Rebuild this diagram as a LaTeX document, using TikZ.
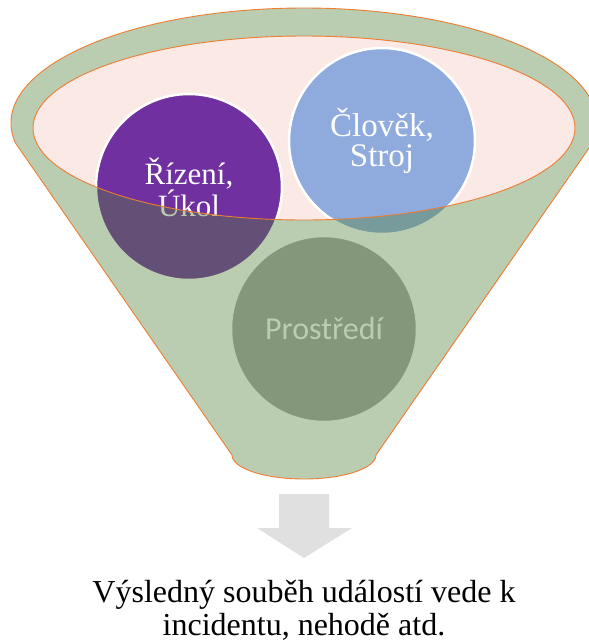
\documentclass[tikz,border=0pt]{standalone}
\usepackage{fontspec}
\setmainfont{Liberation Serif}
\newfontfamily\calibrifont{Carlito}
\usepackage{tikz}
\usetikzlibrary{calc}
\definecolor{funnelgreen}{RGB}{83,130,58}
\definecolor{rimpink}{RGB}{251,233,230}
\definecolor{rimorange}{RGB}{237,125,49}
\definecolor{ballpurple}{RGB}{112,48,160}
\definecolor{ballblue}{RGB}{143,170,220}
\definecolor{ballgray}{RGB}{165,165,165}
\definecolor{arrowgray}{RGB}{224,224,224}
\tikzset{
	ballstyle/.style={circle,draw=white,line width=2.5pt,minimum size=186pt,inner sep=0pt,text=white,align=center},
	rimstyle/.style={draw=rimorange,line width=0.9pt},
	textstyle/.style={rectangle,inner sep=0pt,align=center}
}

\begin{document}
\begin{tikzpicture}[x=1pt,y=-1pt]
	\useasboundingbox (0,0) rectangle (589,641);
	\coordinate (o) at (304,123);
	\coordinate (rim) at (304,128);
	\coordinate (bl) at (232,455);
	\coordinate (br) at (376,455);
	\fill[rimpink] (rim) ellipse [x radius=271,y radius=92];
	\node[ballstyle,fill=ballpurple,font=\rmfamily\fontsize{31}{32}\selectfont] (rizeni) at (189,187) {Řízení,\\Úkol};
	\node[ballstyle,fill=ballblue,font=\rmfamily\fontsize{33}{30}\selectfont] (clovek) at (382,141) {Člověk,\\Stroj};
	\node[ballstyle,fill=ballgray,font=\calibrifont\fontsize{32}{32}\selectfont] (prostredi) at (324,329) {Prostředí};
	\fill[funnelgreen,fill opacity=0.4,even odd rule]
		($(o)+(170:293 and 115)$) arc[start angle=170,end angle=370,x radius=293,y radius=115]
		-- (br) arc[start angle=0,end angle=180,x radius=72,y radius=24] -- cycle
		(rim) ellipse [x radius=271,y radius=92];
	\draw[rimstyle] ($(o)+(170:293 and 115)$) arc[start angle=170,end angle=370,x radius=293,y radius=115]
		-- (br) arc[start angle=0,end angle=180,x radius=72,y radius=24] -- cycle;
	\draw[rimstyle] (rim) ellipse [x radius=271,y radius=92];
	\fill[arrowgray] (279,494) -- (329,494) -- (329,528) -- (352,528) -- (304,558) -- (257,528) -- (279,528) -- cycle;
	\node[textstyle,font=\fontsize{32}{33}\selectfont] (vysledek) at (304,610) {Výsledný souběh událostí vede k\\incidentu, nehodě atd.};
\end{tikzpicture}
\end{document}
